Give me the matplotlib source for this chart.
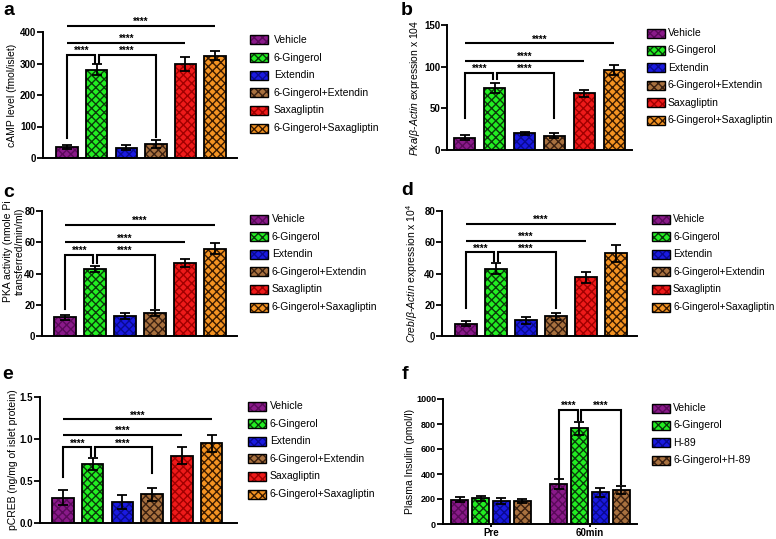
import numpy as np
import matplotlib
matplotlib.use("Agg")
import matplotlib.pyplot as plt
from matplotlib.patches import Rectangle

plt.rcParams['font.family'] = ['Liberation Sans', 'DejaVu Sans']
plt.rcParams['mathtext.fontset'] = 'custom'
plt.rcParams['mathtext.rm'] = 'Liberation Sans'
plt.rcParams['mathtext.it'] = 'Liberation Sans:italic'
plt.rcParams['hatch.linewidth'] = 1.0

# ---- data ----
groups6 = ['Vehicle', '6-Gingerol', 'Extendin', '6-Gingerol+Extendin', 'Saxagliptin', '6-Gingerol+Saxagliptin']
groups4 = ['Vehicle', '6-Gingerol', 'H-89', '6-Gingerol+H-89']
times = ['Pre', '60min']

camp = [35, 280, 33, 45, 298, 325]
camp_err = [5, 18, 9, 12, 23, 14]

pka_mrna = [15, 75, 20, 17, 68, 96]
pka_mrna_err = [3, 6, 2, 3, 4, 6]

pka_act = [12, 43, 13, 14.5, 46.5, 56]
pka_act_err = [1.5, 2, 2, 2, 2.5, 3.5]

creb_mrna = [8, 43, 10, 12.5, 37.5, 53]
creb_mrna_err = [1.5, 3.5, 2, 2, 3.5, 5.5]

pcreb = [0.30, 0.70, 0.25, 0.34, 0.80, 0.95]
pcreb_err = [0.09, 0.07, 0.08, 0.08, 0.10, 0.10]

insulin_pre = [194, 207, 181, 186]
insulin_pre_err = [21, 19, 24, 16]
insulin_60 = [322, 766, 253, 269]
insulin_60_err = [38, 53, 34, 32]

# significance: bracket height, leg ends (vehicle, 6-G, G+E), long line heights
sig_a = dict(brk=327, legs=(65, 302, 67), lines=(366, 419))
sig_b = dict(brk=93, legs=(38, 85, 38), lines=(107, 128))
sig_c = dict(brk=52, legs=(17, 47, 18), lines=(60, 71))
sig_d = dict(brk=53.6, legs=(18, 48, 18), lines=(61, 72))
sig_e = dict(brk=0.90, legs=(0.55, 0.80, 0.59), lines=(1.05, 1.235))
sig_f = dict(brk=912, legs=(370, 830, 320))

fills = ['#8a1a8a', '#22ee22', '#1a1ae0', '#a8713f', '#ee1a1a', '#f39322']
hatchc = ['#5a0a5a', '#0a3a0a', '#0a0a90', '#3a2010', '#a00000', '#3a1a00']

W, H = 776, 539
fig = plt.figure(figsize=(W / 100, H / 100), dpi=100)


def rect(x0, x1, y0, y1):
    return [x0 / W, 1 - y1 / H, (x1 - x0) / W, (y1 - y0) / H]


def style_axes(ax, ymax, yticks, xlim, tsize=7):
    ax.set_ylim(0, ymax)
    ax.set_xlim(*xlim)
    ax.set_yticks(yticks)
    for s in ['top', 'right']:
        ax.spines[s].set_visible(False)
    for s in ['left', 'bottom']:
        ax.spines[s].set_linewidth(1.4)
    ax.tick_params(axis='y', direction='out', length=4, width=1.3, labelsize=tsize, pad=1)
    ax.set_xticks([])
    for t in ax.get_yticklabels():
        t.set_fontweight('bold')


def draw_bars(ax, x, vals, errs, width, cols):
    for xi, v, c in zip(x, vals, cols):
        ax.bar(xi, v, width, color=fills[c], edgecolor=hatchc[c], hatch='xxxx', linewidth=0, zorder=2)
        ax.bar(xi, v, width, fill=False, edgecolor='k', linewidth=1.3, zorder=3)
    ax.errorbar(x, vals, yerr=errs, fmt='none', ecolor='k', elinewidth=1.3,
                capsize=3.5, capthick=1.3, zorder=4)


def stars(ax, xc, y):
    ax.text(xc, y, '****', ha='center', va='bottom', fontsize=7, fontweight='bold',
            clip_on=False)


def hline(ax, x0, x1, y):
    ax.plot([x0, x1], [y, y], color='k', lw=1.5, clip_on=False, solid_capstyle='butt')


def bracket(ax, x0, x1, y, b0, b1):
    ax.plot([x0, x0, x1, x1], [b0, y, y, b1], color='k', lw=1.5, clip_on=False,
            solid_joinstyle='miter')


def sig6(ax, sig, ymax):
    v, g, ge = sig['legs']
    off = 0.07
    bracket(ax, 0, 1 - off, sig['brk'], v, g)
    bracket(ax, 1 + off, 3, sig['brk'], g, ge)
    d = -ymax * 0.01
    stars(ax, 0.5, sig['brk'] + d)
    stars(ax, 2, sig['brk'] + d)
    hline(ax, 0, 4, sig['lines'][0])
    stars(ax, 2, sig['lines'][0] + d)
    hline(ax, 0, 5, sig['lines'][1])
    stars(ax, 2.5, sig['lines'][1] + d)


def legend(labels, cols, box_x, text_x, y0, step, fs=7.5):
    for i, (lab, c) in enumerate(zip(labels, cols)):
        yc = y0 + i * step
        r = rect(box_x, box_x + 18, yc - 4.5, yc + 4.5)
        fig.patches.append(Rectangle((r[0], r[1]), r[2], r[3], transform=fig.transFigure,
                                     facecolor=fills[c], edgecolor=hatchc[c], hatch='xxxx',
                                     linewidth=0))
        fig.patches.append(Rectangle((r[0], r[1]), r[2], r[3], transform=fig.transFigure,
                                     fill=False, edgecolor='k', linewidth=1.0))
        fig.text(text_x / W, 1 - yc / H, lab, fontsize=fs, va='center', ha='left')


x6 = np.arange(6)
cols6 = list(range(6))
cols4 = [0, 1, 2, 3]

# a
ax = fig.add_axes(rect(43, 237, 32, 158))
draw_bars(ax, x6, camp, camp_err, 0.72, cols6)
style_axes(ax, 400, [0, 100, 200, 300, 400], (-0.81, 5.74))
sig6(ax, sig_a, 400)
ax.set_ylabel('cAMP level (fmol/islet)', fontsize=7.5)
ax.yaxis.set_label_coords(-0.134, 0.5)
legend(groups6, cols6, 250, 274, 40, 17.6)

# b
ax = fig.add_axes(rect(447, 632, 25, 150))
draw_bars(ax, x6, pka_mrna, pka_mrna_err, 0.7, cols6)
style_axes(ax, 150, [0, 50, 100, 150], (-0.6, 5.6))
sig6(ax, sig_b, 150)
ax.set_ylabel(r'$\it{Pka/\beta}$-$\it{Actin}$ expression x 104', fontsize=7.5)
ax.yaxis.set_label_coords(-0.135, 0.5)
legend(groups6, cols6, 647, 668, 33, 17.4)

# c
ax = fig.add_axes(rect(42, 237, 211, 336))
draw_bars(ax, x6, pka_act, pka_act_err, 0.72, cols6)
style_axes(ax, 80, [0, 20, 40, 60, 80], (-0.77, 5.73))
sig6(ax, sig_c, 80)
ax.set_ylabel('PKA activity (nmole Pi\ntransferred/min/ml)', fontsize=7.5, linespacing=1.2)
ax.yaxis.set_label_coords(-0.087, 0.68)
legend(groups6, cols6, 250, 272, 219, 17.6)

# d
ax = fig.add_axes(rect(442, 637, 211, 336))
draw_bars(ax, x6, creb_mrna, creb_mrna_err, 0.72, cols6)
style_axes(ax, 80, [0, 20, 40, 60, 80], (-0.8, 5.7))
sig6(ax, sig_d, 80)
ax.set_ylabel(r'$\it{Creb/\beta}$-$\it{Actin}$ expression x 10$^4$', fontsize=7.5)
ax.yaxis.set_label_coords(-0.113, 0.5)
legend(groups6, cols6, 652, 673, 219, 17.6, fs=7.2)

# e
ax = fig.add_axes(rect(40, 237, 397, 523))
draw_bars(ax, x6, pcreb, pcreb_err, 0.72, cols6)
style_axes(ax, 1.5, [0.0, 0.5, 1.0, 1.5], (-0.77, 5.85))
ax.set_yticklabels(['0.0', '0.5', '1.0', '1.5'], fontweight='bold')
sig6(ax, sig_e, 1.5)
ax.set_ylabel('pCREB (ng/mg of islet protein)', fontsize=7.5)
ax.yaxis.set_label_coords(-0.112, 0.5)
legend(groups6, cols6, 248, 270, 406, 17.6)

# f
ax = fig.add_axes(rect(443, 637, 399, 524))
offs = (np.arange(4) - 1.5) * 0.212
draw_bars(ax, 0 + offs, insulin_pre, insulin_pre_err, 0.17, cols4)
draw_bars(ax, 1 + offs, insulin_60, insulin_60_err, 0.17, cols4)
style_axes(ax, 1000, [0, 200, 400, 600, 800, 1000], (-0.485, 1.475), tsize=6.5)
ax.set_xticks([0, 1])
ax.set_xticklabels(times, fontsize=7, fontweight='bold')
ax.tick_params(axis='x', length=2, width=1.3, pad=1)
v, g, ge = sig_f['legs']
bracket(ax, 1 + offs[0], 1 + offs[1] - 0.015, sig_f['brk'], v, g)
bracket(ax, 1 + offs[1] + 0.015, 1 + offs[3], sig_f['brk'], g, ge)
stars(ax, 1 + (offs[0] + offs[1]) / 2, sig_f['brk'] - 10)
stars(ax, 1 + (offs[1] + offs[3]) / 2, sig_f['brk'] - 10)
ax.set_ylabel('Plasma Insulin (pmol/l)', fontsize=7.5)
ax.yaxis.set_label_coords(-0.144, 0.5)
legend(groups4, cols4, 652, 673, 408, 17.4)

# panel letters
for lab, px, py in [('a', 3, 2), ('b', 401, 2), ('c', 3, 184), ('d', 401, 182),
                    ('e', 2, 366), ('f', 402, 366)]:
    fig.text(px / W, 1 - py / H, lab, fontsize=14, fontweight='bold', va='top', ha='left')

fig.savefig('out.png', dpi=100)
